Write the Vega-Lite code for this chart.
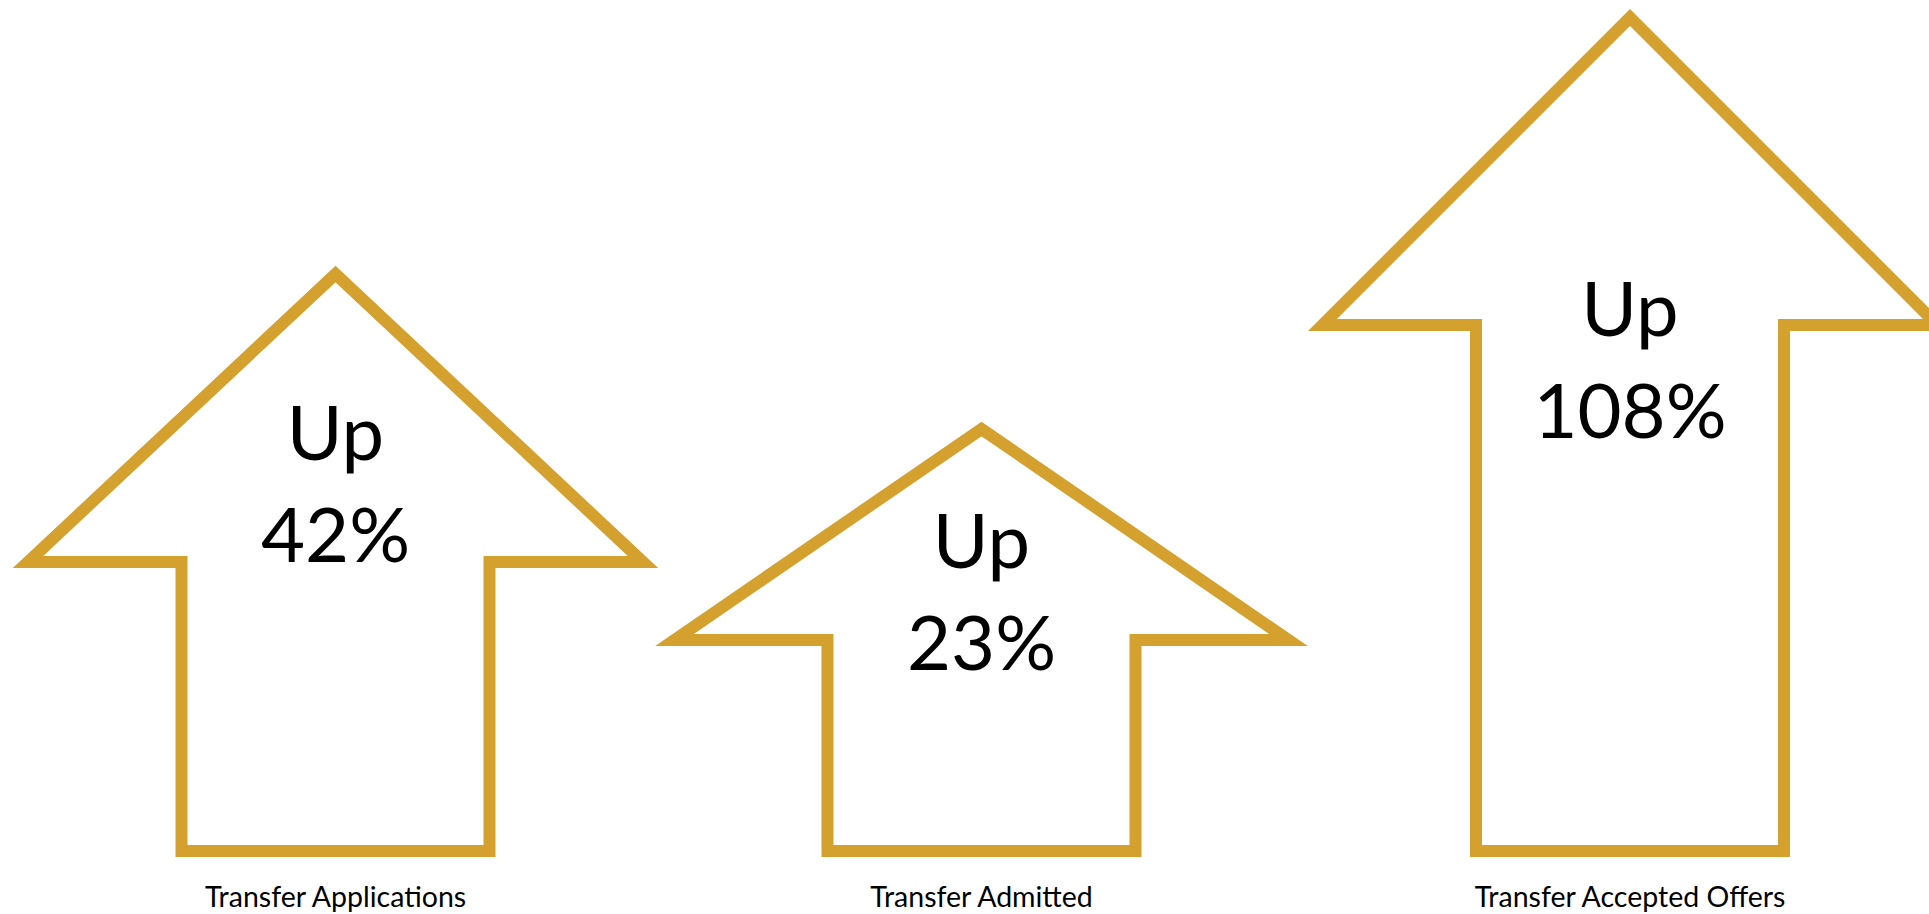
{
  "$schema": "https://vega.github.io/schema/vega-lite/v6.json",
  "width": 1929,
  "height": 914,
  "autosize": {"type": "none"},
  "padding": 0,
  "background": "white",
  "config": {"view": {"stroke": null}},
  "datasets": {
    "outlines": [
      {"metric": "Transfer Applications", "i": 0, "x": 335.5, "y": 851},
      {"metric": "Transfer Applications", "i": 1, "x": 181.5, "y": 851},
      {"metric": "Transfer Applications", "i": 2, "x": 181.5, "y": 562},
      {"metric": "Transfer Applications", "i": 3, "x": 28, "y": 562},
      {"metric": "Transfer Applications", "i": 4, "x": 335.5, "y": 274},
      {"metric": "Transfer Applications", "i": 5, "x": 643, "y": 562},
      {"metric": "Transfer Applications", "i": 6, "x": 489.5, "y": 562},
      {"metric": "Transfer Applications", "i": 7, "x": 489.5, "y": 851},
      {"metric": "Transfer Applications", "i": 8, "x": 335.5, "y": 851},
      {"metric": "Transfer Admitted", "i": 0, "x": 981.5, "y": 851},
      {"metric": "Transfer Admitted", "i": 1, "x": 827.5, "y": 851},
      {"metric": "Transfer Admitted", "i": 2, "x": 827.5, "y": 640},
      {"metric": "Transfer Admitted", "i": 3, "x": 674.5, "y": 640},
      {"metric": "Transfer Admitted", "i": 4, "x": 981.5, "y": 429},
      {"metric": "Transfer Admitted", "i": 5, "x": 1288.5, "y": 640},
      {"metric": "Transfer Admitted", "i": 6, "x": 1135.5, "y": 640},
      {"metric": "Transfer Admitted", "i": 7, "x": 1135.5, "y": 851},
      {"metric": "Transfer Admitted", "i": 8, "x": 981.5, "y": 851},
      {"metric": "Transfer Accepted Offers", "i": 0, "x": 1630, "y": 851},
      {"metric": "Transfer Accepted Offers", "i": 1, "x": 1476, "y": 851},
      {"metric": "Transfer Accepted Offers", "i": 2, "x": 1476, "y": 325},
      {"metric": "Transfer Accepted Offers", "i": 3, "x": 1322.5, "y": 325},
      {"metric": "Transfer Accepted Offers", "i": 4, "x": 1630, "y": 17.5},
      {"metric": "Transfer Accepted Offers", "i": 5, "x": 1937.5, "y": 325},
      {"metric": "Transfer Accepted Offers", "i": 6, "x": 1784, "y": 325},
      {"metric": "Transfer Accepted Offers", "i": 7, "x": 1784, "y": 851},
      {"metric": "Transfer Accepted Offers", "i": 8, "x": 1630, "y": 851}
    ],
    "changes": [
      {"metric": "Transfer Applications", "text": "Up", "x": 335.5, "y": 460},
      {"metric": "Transfer Applications", "text": "42%", "x": 335.5, "y": 562},
      {"metric": "Transfer Admitted", "text": "Up", "x": 981.5, "y": 568},
      {"metric": "Transfer Admitted", "text": "23%", "x": 981.5, "y": 670},
      {"metric": "Transfer Accepted Offers", "text": "Up", "x": 1630, "y": 336},
      {"metric": "Transfer Accepted Offers", "text": "108%", "x": 1630, "y": 438}
    ],
    "labels": [
      {"metric": "Transfer Applications", "x": 335.5, "y": 907},
      {"metric": "Transfer Admitted", "x": 981.5, "y": 907},
      {"metric": "Transfer Accepted Offers", "x": 1630, "y": 907}
    ]
  },
  "layer": [
    {
      "data": {"name": "outlines"},
      "mark": {"type": "line", "stroke": "#D4A12F", "strokeWidth": 12, "strokeJoin": "miter", "strokeCap": "butt", "clip": true},
      "encoding": {
        "x": {"field": "x", "type": "quantitative", "scale": {"domain": [0, 1929], "nice": false, "zero": false}, "axis": null},
        "y": {"field": "y", "type": "quantitative", "scale": {"domain": [0, 914], "nice": false, "zero": false, "reverse": true}, "axis": null},
        "detail": {"field": "metric", "type": "nominal"},
        "order": {"field": "i", "type": "quantitative"}
      }
    },
    {
      "data": {"name": "changes"},
      "mark": {"type": "text", "font": "Lato", "fontSize": 76, "fill": "#000000", "align": "center", "baseline": "alphabetic"},
      "encoding": {
        "x": {"field": "x", "type": "quantitative", "axis": null},
        "y": {"field": "y", "type": "quantitative", "axis": null},
        "text": {"field": "text", "type": "nominal"}
      }
    },
    {
      "data": {"name": "labels"},
      "mark": {"type": "text", "font": "Lato", "fontSize": 28.5, "fill": "#000000", "align": "center", "baseline": "alphabetic"},
      "encoding": {
        "x": {"field": "x", "type": "quantitative", "axis": null},
        "y": {"field": "y", "type": "quantitative", "axis": null},
        "text": {"field": "metric", "type": "nominal"}
      }
    }
  ]
}
